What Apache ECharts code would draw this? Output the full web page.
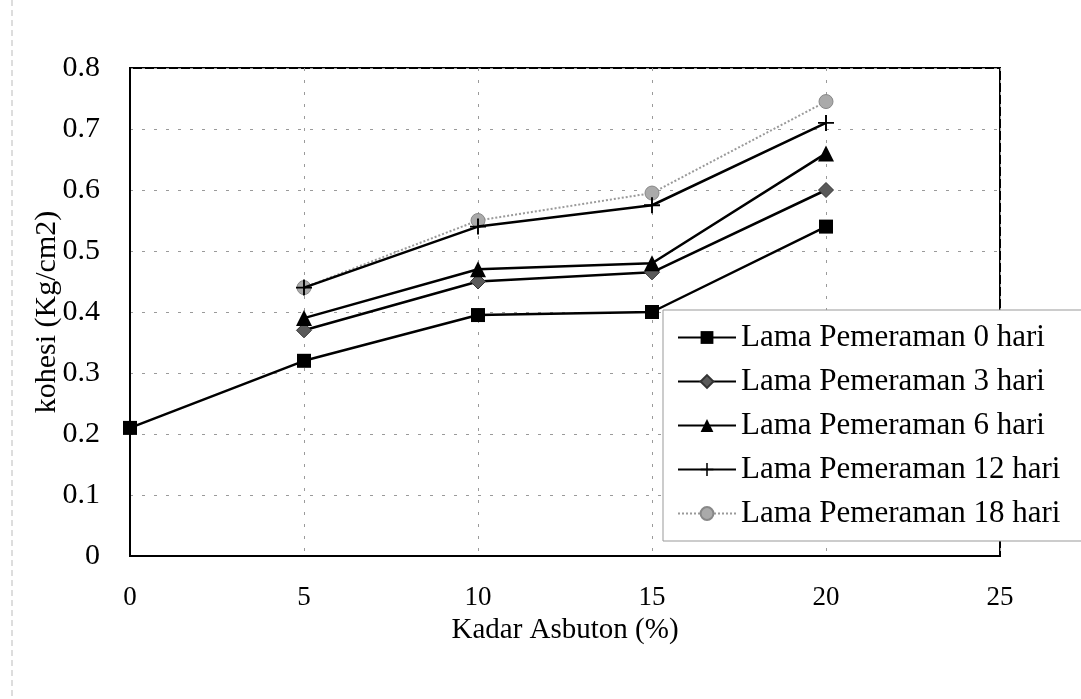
<!DOCTYPE html>
<html>
<head>
<meta charset="utf-8">
<script src="https://cdn.jsdelivr.net/npm/echarts@6/dist/echarts.min.js"></script>
<style>
html,body{margin:0;padding:0;background:#fff;}
#chart{width:1081px;height:699px;}
</style>
</head>
<body>
<div id="chart"></div>
<script>
// ---- data ----
var kadar = [0, 5, 10, 15, 20];
var hari0  = [0.21, 0.32, 0.395, 0.40, 0.54];
var hari3  = [null, 0.37, 0.45, 0.465, 0.60];
var hari6  = [null, 0.39, 0.47, 0.48, 0.66];
var hari12 = [null, 0.44, 0.54, 0.575, 0.71];
var hari18 = [null, 0.44, 0.55, 0.595, 0.745];
var seriesNames = ['Lama Pemeraman 0 hari','Lama Pemeraman 3 hari','Lama Pemeraman 6 hari','Lama Pemeraman 12 hari','Lama Pemeraman 18 hari'];
var xTickLabels = ['0','5','10','15','20','25'];
var yTickLabels = ['0','0.1','0.2','0.3','0.4','0.5','0.6','0.7','0.8'];
var xTitle = 'Kadar Asbuton (%)';
var yTitle = 'kohesi (Kg/cm2)';

function pairs(vals){
  var out = [];
  for (var i=0;i<kadar.length;i++){ if (vals[i]!==null) out.push([kadar[i], vals[i]]); }
  return out;
}
var FONT = 'Liberation Serif';
var plusPath = 'path://M4.4,0h1.2v10h-1.2z M0,4.4h10v1.2h-10z';

var chart = echarts.init(document.getElementById('chart'), null, {renderer:'canvas'});
var option = {
  backgroundColor:'#fff',
  animation:false,
  textStyle:{fontFamily:FONT, color:'#000'},
  grid:{left:130, right:81, top:68, bottom:143, show:true, borderColor:'#000', borderWidth:2, backgroundColor:'transparent'},
  xAxis:{
    type:'value', min:0, max:25, interval:5,
    name:xTitle, nameLocation:'middle', nameGap:60, nameMoveOverlap:false,
    nameTextStyle:{fontFamily:FONT, fontSize:29, color:'#000'},
    axisLine:{show:true, lineStyle:{color:'#000', width:2}},
    axisTick:{show:false},
    axisLabel:{margin:28, fontFamily:FONT, fontSize:27, color:'#000',
      formatter:function(v){ return xTickLabels[Math.round(v/5)]; }},
    splitLine:{show:true, lineStyle:{color:'#9a9a9a', width:1, type:[3,9]}}
  },
  yAxis:{
    type:'value', min:0, max:0.8, interval:0.1,
    name:yTitle, nameLocation:'middle', nameGap:68, nameRotate:90, nameMoveOverlap:false,
    nameTextStyle:{fontFamily:FONT, fontSize:30, color:'#000'},
    axisLine:{show:true, lineStyle:{color:'#000', width:2}},
    axisTick:{show:false},
    axisLabel:{margin:30, fontFamily:FONT, fontSize:30, color:'#000',
      formatter:function(v){ return yTickLabels[Math.round(v*10)]; }},
    splitLine:{show:true, lineStyle:{color:'#9a9a9a', width:1, type:[3,9]}}
  },
  legend:{
    orient:'vertical', left:663, top:310,
    padding:[12, 40, 12, 14],
    backgroundColor:'#fff', borderColor:'#999', borderWidth:1,
    itemWidth:58, itemHeight:16, itemGap:13,
    textStyle:{fontFamily:FONT, fontSize:31, color:'#000', lineHeight:31},
    data:seriesNames
  },
  series:[
    {name:seriesNames[0], type:'line', data:pairs(hari0), symbol:'rect', symbolSize:14,
      lineStyle:{color:'#000', width:2.5}, itemStyle:{color:'#000'}, z:5},
    {name:seriesNames[1], type:'line', data:pairs(hari3), symbol:'diamond', symbolSize:15,
      lineStyle:{color:'#000', width:2.5}, itemStyle:{color:'#5a5a5a', borderColor:'#333', borderWidth:1}, z:4},
    {name:seriesNames[2], type:'line', data:pairs(hari6), symbol:'triangle', symbolSize:16,
      lineStyle:{color:'#000', width:2.5}, itemStyle:{color:'#000'}, z:4},
    {name:seriesNames[3], type:'line', data:pairs(hari12), symbol:plusPath, symbolSize:16,
      lineStyle:{color:'#000', width:2.5}, itemStyle:{color:'#000'}, z:3},
    {name:seriesNames[4], type:'line', data:pairs(hari18), symbol:'circle', symbolSize:14,
      lineStyle:{color:'#9a9a9a', width:2, type:'dotted'}, itemStyle:{color:'#aaa', borderColor:'#888', borderWidth:1}, z:2}
  ],
  graphic:[
    {type:'line', shape:{x1:12, y1:0, x2:12, y2:699}, style:{stroke:'#bbb', lineWidth:1, lineDash:[6,4]}, silent:true}
  ]
};
chart.setOption(option);
</script>
</body>
</html>
